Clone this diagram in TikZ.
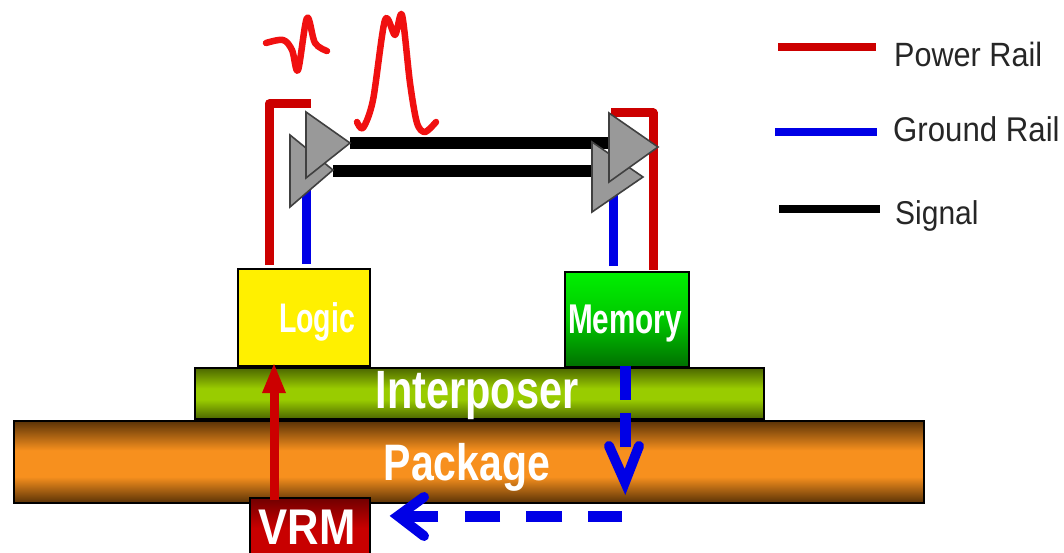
\documentclass[tikz,border=0pt]{standalone}
\usepackage{fontspec}
\setmainfont{Liberation Sans}
\definecolor{railred}{HTML}{CC0000}
\definecolor{railblue}{HTML}{0000E6}
\definecolor{wave}{HTML}{F01010}
\definecolor{buf}{HTML}{999999}
\definecolor{pkgdark}{HTML}{5A3206}
\definecolor{pkgmid}{HTML}{F7901E}
\definecolor{intdark}{HTML}{4C6600}
\definecolor{intmid}{HTML}{99CC00}
\definecolor{vrmdark}{HTML}{700000}
\definecolor{vrmmid}{HTML}{C80000}
\definecolor{memtop}{HTML}{00F000}
\definecolor{memmid}{HTML}{00C800}
\definecolor{membot}{HTML}{007000}
\pgfdeclareverticalshading{pkgshade}{100bp}{color(0bp)=(pkgdark); color(25bp)=(pkgdark); color(41bp)=(pkgmid); color(57bp)=(pkgmid); color(75bp)=(pkgdark); color(100bp)=(pkgdark)}
\pgfdeclareverticalshading{intshade}{100bp}{color(0bp)=(intdark); color(25bp)=(intdark); color(44bp)=(intmid); color(55bp)=(intmid); color(75bp)=(intdark); color(100bp)=(intdark)}
\pgfdeclareverticalshading{vrmshade}{100bp}{color(0bp)=(vrmmid); color(25bp)=(vrmmid); color(50bp)=(vrmmid); color(75bp)=(vrmdark); color(100bp)=(vrmdark)}
\pgfdeclareverticalshading{memshade}{100bp}{color(0bp)=(membot); color(25bp)=(membot); color(50bp)=(memmid); color(75bp)=(memtop); color(100bp)=(memtop)}
\newcommand{\lab}[3]{\scalebox{1}[#2]{\fontsize{#1}{#1}\selectfont #3}}
\tikzset{
  box/.style={draw=black,line width=1.8pt,inner sep=0pt,anchor=north west},
  chiplabel/.style={text=white,inner sep=0pt,font=\bfseries},
  legendlabel/.style={text=black!85,inner sep=0pt,anchor=west},
  powerrail/.style={draw=railred,line width=9pt},
  groundrail/.style={draw=railblue,line width=9pt},
  signalrail/.style={draw=black,line width=11.5pt},
  legendline/.style={line width=7.5pt},
  buffer/.style={draw=black!75,fill=buf,line width=1.6pt,line join=miter},
  wavecurve/.style={draw=wave,line width=6.5pt,line cap=round,line join=round},
  dashflow/.style={draw=railblue,line width=11pt},
  chevron/.style={draw=railblue,line width=10pt,line join=miter,line cap=round}
}
\begin{document}
\begin{tikzpicture}[x=1pt,y=-1pt]
\useasboundingbox (0,0) rectangle (1064,553);
% substrate stack
\node[box,minimum width=910pt,minimum height=82pt,shading=pkgshade] (package) at (13,420) {};
\node[box,minimum width=569pt,minimum height=51pt,shading=intshade] (interposer) at (194,367) {};
\node[box,minimum width=132pt,minimum height=97pt,fill={rgb,255:red,255;green,240;blue,0}] (logic) at (237,268) {};
\node[box,minimum width=124pt,minimum height=95pt,shading=memshade] (memory) at (564,271) {};
\node[box,minimum width=120pt,minimum height=60pt,shading=vrmshade] (vrm) at (249,497) {};
% anchor points
\coordinate (lpwr) at (269,265);
\coordinate (lpwrtop) at (269,104);
\coordinate (lbuf) at (311,104);
\coordinate (lgnd) at (306,264);
\coordinate (lgndtop) at (306,190);
\coordinate (rpwr) at (653,270);
\coordinate (rpwrtop) at (653,113);
\coordinate (rbuf) at (611,113);
\coordinate (rgnd) at (613,266);
\coordinate (rgndtop) at (613,193);
\coordinate (ltipA) at (350,143);
\coordinate (rbaseA) at (609,143);
\coordinate (ltipB) at (333,171);
\coordinate (rbaseB) at (592,171);
% rails
\draw[powerrail,line join=round] (lpwr) -- (lpwrtop) -- (lbuf);
\draw[groundrail] (lgnd) -- (lgndtop);
\draw[groundrail] (rgnd) -- (rgndtop);
\draw[powerrail,line join=round] (rpwr) -- (rpwrtop) -- (rbuf);
% signals
\draw[signalrail] (ltipB) -- (rbaseB);
\draw[signalrail] (ltipA) -- (rbaseA);
% buffers
\draw[buffer] (290,135) -- (333,170) -- (290,207) -- cycle;
\draw[buffer] (306,112) -- (ltipA) -- (306,178) -- cycle;
\draw[buffer] (592,142) -- (643,177) -- (592,212) -- cycle;
\draw[buffer] (609,113) -- (658,147) -- (609,182) -- cycle;
% waveforms
\draw[wavecurve] plot[smooth,tension=.55] coordinates {(266,43) (283,40) (292,50) (298,70) (307,18) (315,43) (327,51)};
\draw[wavecurve] plot[smooth,tension=.5] coordinates {(357,122) (363,128) (373,100) (385,20) (395,35) (402,15) (410,83) (417,123) (425,132) (436,122)};
% VRM to logic
\coordinate (vrmout) at (274,500);
\coordinate (vrmneck) at (274,392);
\draw[draw=railred,line width=9pt] (vrmout) -- (vrmneck);
\fill[railred] (274,364) -- (286,393) -- (262,393) -- cycle;
% return path
\coordinate (d1a) at (625,366); \coordinate (d1b) at (625,400);
\coordinate (d2a) at (625,413); \coordinate (d2b) at (625,447);
\draw[dashflow] (d1a) -- (d1b);
\draw[dashflow] (d2a) -- (d2b);
\draw[chevron] (609,446) -- (625,482) -- (639,446);
\coordinate (h1a) at (622,516); \coordinate (h1b) at (588,516);
\coordinate (h2a) at (562,516); \coordinate (h2b) at (526,516);
\coordinate (h3a) at (500,516); \coordinate (h3b) at (465,516);
\coordinate (h4a) at (438,516); \coordinate (h4b) at (400,516);
\draw[dashflow] (h1a) -- (h1b);
\draw[dashflow] (h2a) -- (h2b);
\draw[dashflow] (h3a) -- (h3b);
\draw[dashflow] (h4a) -- (h4b);
\draw[chevron] (424,497) -- (398,516) -- (424,536);
% labels
\node[chiplabel] (logiclabel) at (317,322) {\lab{28.5}{1.45}{Logic}};
\node[chiplabel] (memlabel) at (625,324) {\lab{29.7}{1.4}{Memory}};
\node[chiplabel] (interlabel) at (477,396) {\lab{41.5}{1.3}{Interposer}};
\node[chiplabel] (packlabel) at (467,467) {\lab{41}{1.25}{Package}};
\node[chiplabel] (vrmlabel) at (307,527) {\lab{43.6}{1.15}{VRM}};
% legend
\coordinate (p1) at (778,47); \coordinate (p2) at (876,47);
\coordinate (g1) at (775,132); \coordinate (g2) at (877,132);
\coordinate (s1) at (779,209); \coordinate (s2) at (880,209);
\draw[legendline,draw=railred] (p1) -- (p2);
\draw[legendline,draw=railblue] (g1) -- (g2);
\draw[legendline,draw=black] (s1) -- (s2);
\node[legendlabel] (powertext) at (894,54) {\lab{30.6}{1.1}{Power Rail}};
\node[legendlabel] (groundtext) at (893,129) {\lab{31.2}{1.1}{Ground Rail}};
\node[legendlabel] (signaltext) at (895,216) {\lab{30}{1.1}{Signal}};
\end{tikzpicture}
\end{document}
